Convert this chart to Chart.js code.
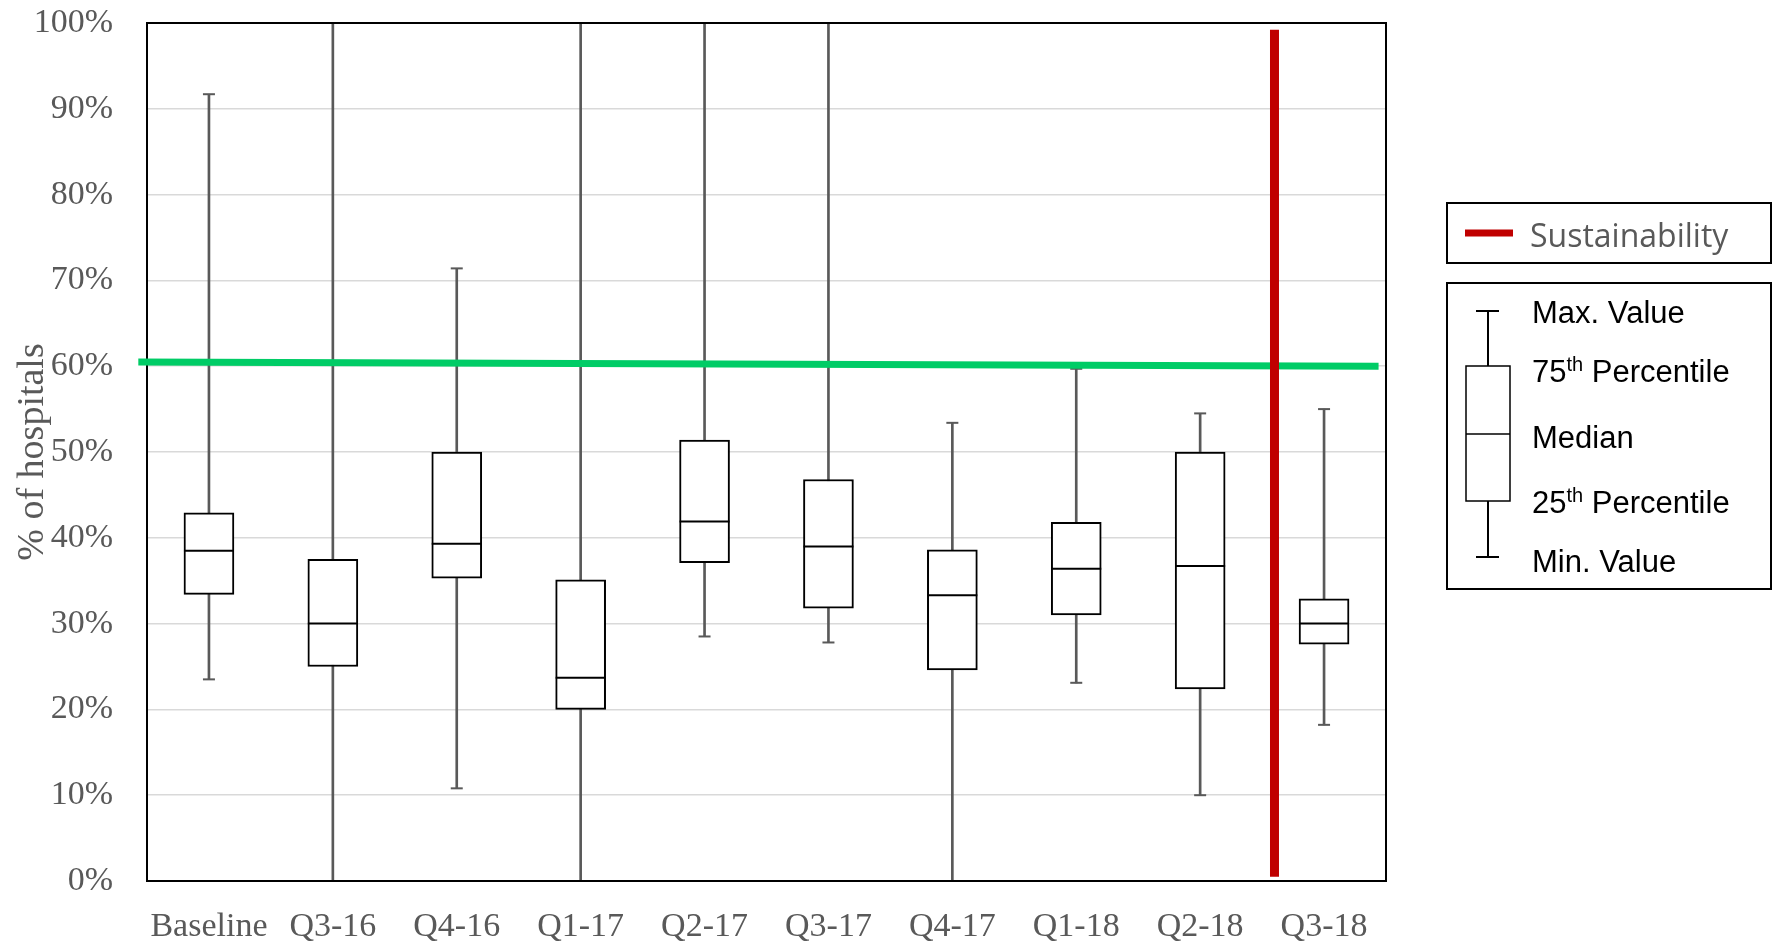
<!DOCTYPE html>
<html>
<head>
<meta charset="utf-8">
<script src="https://cdn.jsdelivr.net/npm/chart.js@4.4.0/dist/chart.umd.min.js"></script>
<style>
  html, body { margin: 0; padding: 0; background: #fff; }
  #wrap { position: relative; width: 1773px; height: 944px; }
</style>
</head>
<body>
<div id="wrap"><canvas id="chart"></canvas></div>
<script>
const categories = ['Baseline', 'Q3-16', 'Q4-16', 'Q1-17', 'Q2-17', 'Q3-17', 'Q4-17', 'Q1-18', 'Q2-18', 'Q3-18']
const maxValues    = [91.7, 100, 71.4, 100, 100, 100, 53.4, 59.7, 54.5, 55.0]
const q3Values     = [42.9, 37.5, 50.0, 35.1, 51.4, 46.8, 38.6, 41.8, 50.0, 32.9]
const medianValues = [38.5, 30.0, 39.3, 23.7, 41.9, 39.0, 33.3, 36.4, 36.7, 30.0]
const q1Values     = [33.4, 25.0, 35.3, 20.0, 37.1, 31.8, 24.6, 31.0, 22.4, 27.6]
const minValues    = [23.5, 0, 10.8, 0, 28.5, 27.8, 0, 23.1, 10.0, 18.2]
const yTicks = [0, 10, 20, 30, 40, 50, 60, 70, 80, 90, 100]

// green target line: value at its left end and right end, and where it runs (category index)
const targetLine = [60.5, 60.0]
const targetSpan = [-0.57, 9.44]
// red "Sustainability" marker: category index and value range
const sustainabilityAt = 8.6
const sustainabilityRange = [0.5, 99.2]

const GREY = '#595959'
const SERIF = '"Liberation Serif", "DejaVu Serif", serif'
const SANS = '"Liberation Sans", Arial, sans-serif'

const overlay = {
    id: 'overlay',
    afterDatasetsDraw(chart) {
        const { ctx, chartArea, scales: { x, y } } = chart
        ctx.save()
        // plot frame
        ctx.strokeStyle = '#000'
        ctx.lineWidth = 2
        ctx.strokeRect(chartArea.left, chartArea.top, chartArea.width, chartArea.height)

        // target line
        ctx.strokeStyle = '#00cc66'
        ctx.lineWidth = 7
        ctx.beginPath()
        ctx.moveTo(x.getPixelForValue(targetSpan[0]), y.getPixelForValue(targetLine[0]))
        ctx.lineTo(x.getPixelForValue(targetSpan[1]), y.getPixelForValue(targetLine[1]))
        ctx.stroke()

        // sustainability marker
        ctx.strokeStyle = '#c00000'
        ctx.lineWidth = 9
        ctx.beginPath()
        ctx.moveTo(x.getPixelForValue(sustainabilityAt), y.getPixelForValue(sustainabilityRange[1]))
        ctx.lineTo(x.getPixelForValue(sustainabilityAt), y.getPixelForValue(sustainabilityRange[0]))
        ctx.stroke()
        ctx.restore()
    },
    afterDraw(chart) {
        const ctx = chart.ctx
        ctx.save()
        ctx.strokeStyle = '#000'
        ctx.lineWidth = 2

        // legend 1
        ctx.strokeRect(1447, 203, 324, 60)
        ctx.fillStyle = '#c00000'
        ctx.fillRect(1465, 229.5, 48, 7)
        ctx.fillStyle = GREY
        ctx.font = '32px "Open Sans", sans-serif'
        ctx.textBaseline = 'alphabetic'
        ctx.fillText('Sustainability', 1530, 247)

        // legend 2
        ctx.strokeRect(1447, 283, 324, 306)
        // box icon
        ctx.beginPath()
        ctx.moveTo(1476, 311); ctx.lineTo(1499, 311)
        ctx.moveTo(1488, 311); ctx.lineTo(1488, 366)
        ctx.moveTo(1488, 501); ctx.lineTo(1488, 557)
        ctx.moveTo(1476, 557); ctx.lineTo(1499, 557)
        ctx.stroke()
        ctx.lineWidth = 1.5
        ctx.strokeRect(1466, 366, 44, 135)
        ctx.beginPath()
        ctx.moveTo(1466, 434); ctx.lineTo(1510, 434)
        ctx.stroke()

        ctx.fillStyle = '#000'
        const tx = 1532
        const big = '31px ' + SANS
        const small = '20px ' + SANS
        const withSup = (num, rest, base) => {
            ctx.font = big
            ctx.fillText(num, tx, base)
            let w = ctx.measureText(num).width
            ctx.font = small
            ctx.fillText('th', tx + w, base - 11)
            w += ctx.measureText('th').width
            ctx.font = big
            ctx.fillText(rest, tx + w, base)
        }
        ctx.font = big
        ctx.fillText('Max. Value', tx, 323)
        withSup('75', ' Percentile', 382)
        ctx.font = big
        ctx.fillText('Median', tx, 448)
        withSup('25', ' Percentile', 513)
        ctx.font = big
        ctx.fillText('Min. Value', tx, 572)
        ctx.restore()
    }
}

const data = {
    labels: categories,
    datasets: [
        {
            type: 'line',
            label: 'Max',
            data: maxValues,
            showLine: false,
            pointStyle: 'line',
            pointRadius: 6,
            pointBorderWidth: 2,
            pointBorderColor: GREY,
            order: 1
        },
        {
            type: 'line',
            label: 'Min',
            data: minValues,
            showLine: false,
            pointStyle: 'line',
            pointRadius: 6,
            pointBorderWidth: 2,
            pointBorderColor: GREY,
            order: 1
        },
        {
            type: 'line',
            label: 'Median',
            data: medianValues,
            showLine: false,
            pointStyle: 'line',
            pointRadius: 25,
            pointBorderWidth: 2,
            pointBorderColor: '#000',
            order: 1
        },
        {
            type: 'bar',
            label: 'Box',
            data: q1Values.map((v, i) => [v, q3Values[i]]),
            grouped: false,
            barThickness: 50,
            backgroundColor: '#fff',
            borderColor: '#000',
            borderWidth: 2,
            borderSkipped: false,
            order: 2
        },
        {
            type: 'bar',
            label: 'Whisker',
            data: minValues.map((v, i) => [v, maxValues[i]]),
            grouped: false,
            barThickness: 2,
            backgroundColor: GREY,
            borderWidth: 0,
            order: 3
        }
    ]
}

new Chart(document.getElementById('chart'), {
    type: 'bar',
    data: data,
    options: {
        responsive: true,
        maintainAspectRatio: false,
        animation: false,
        layout: {
            autoPadding: false,
            padding: { top: 23, right: 387, left: 0, bottom: 0 }
        },
        scales: {
            x: {
                grid: { display: false },
                border: { display: false },
                ticks: {
                    color: GREY,
                    padding: 18,
                    maxRotation: 0,
                    autoSkip: false,
                    font: { family: SERIF, size: 34 }
                },
                afterFit: (scale) => { scale.height = 63 }
            },
            y: {
                min: 0,
                max: 100,
                afterBuildTicks: (scale) => { scale.ticks = yTicks.map(v => ({ value: v })) },
                // invisible tick marks keep the labels off the plot without padding the top
                grid: { color: '#d9d9d9', lineWidth: 1.5, drawTicks: true, tickLength: 34, tickColor: 'rgba(0,0,0,0)' },
                border: { display: false },
                ticks: {
                    color: GREY,
                    padding: 0,
                    font: { family: SERIF, size: 34 },
                    callback: (v) => v + '%'
                },
                title: {
                    display: true,
                    text: '% of hospitals',
                    color: GREY,
                    padding: { top: 10, bottom: 0 },
                    font: { family: SERIF, size: 38, weight: 'normal' }
                },
                afterFit: (scale) => { scale.width = 147 }
            }
        },
        plugins: {
            legend: { display: false },
            tooltip: { enabled: false }
        }
    },
    plugins: [overlay]
})
</script>
</body>
</html>
